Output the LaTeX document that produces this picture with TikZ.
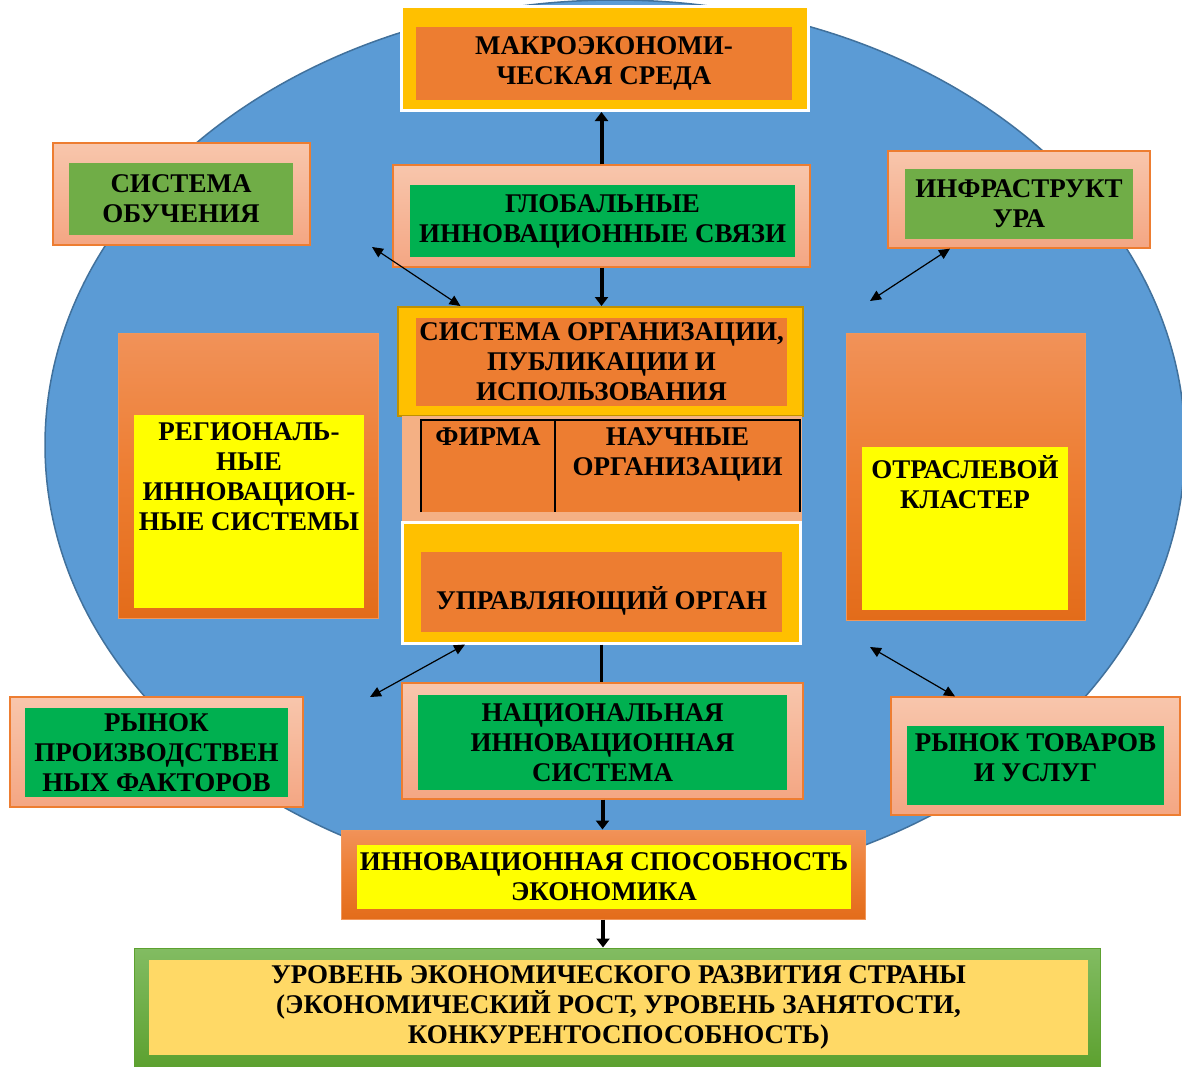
\documentclass[tikz,border=0pt]{standalone}
\usepackage{fontspec}
\setmainfont{Liberation Serif}
\usetikzlibrary{arrows.meta,positioning}
\definecolor{EllBlue}{HTML}{5B9BD5}
\definecolor{EllLine}{HTML}{41719C}
\definecolor{Gold}{HTML}{FFC000}
\definecolor{GoldLine}{HTML}{BF9000}
\definecolor{Orng}{HTML}{ED7D31}
\definecolor{SalTop}{HTML}{F8C6AC}
\definecolor{SalBot}{HTML}{F4A683}
\definecolor{Salmon}{HTML}{F4B084}
\definecolor{OrTop}{HTML}{F19259}
\definecolor{OrBot}{HTML}{E36C1A}
\definecolor{DGreen}{HTML}{00B050}
\definecolor{OGreen}{HTML}{70AD47}
\definecolor{Yel}{HTML}{FFFF00}
\definecolor{LGTop}{HTML}{82BC62}
\definecolor{LGBot}{HTML}{5DA130}
\definecolor{Sand}{HTML}{FFD966}

\begin{document}
\begin{tikzpicture}[x=1pt, y=-1pt, every node/.style={font=\fontsize{27}{30}\selectfont\bfseries, align=center, inner sep=0pt},
  salbox/.style={draw=Orng, line width=1.2pt, top color=SalTop, bottom color=SalBot},
  orbox/.style={draw=Orng!80, line width=1pt, top color=OrTop, bottom color=OrBot, middle color=Orng},
  goldbox/.style={draw=white, line width=3pt, fill=Gold},
  fat/.style={-{Triangle[length=9pt,width=13pt]}, line width=4pt},
  dbl/.style={{Triangle[length=11pt,width=10pt]}-{Triangle[length=11pt,width=10pt]}, line width=1.2pt}]
\useasboundingbox (0,0) rectangle (1182,1068);
\fill[EllBlue, draw=EllLine, line width=1.5pt] (615,445) ellipse [x radius=570pt, y radius=445pt];

% top row
\node[goldbox, minimum width=407pt, minimum height=104pt] (makroO) at (605,58.5) {};
\node[fill=Orng, minimum width=376pt, minimum height=73pt] (makro) at (604,63.5) {МАКРОЭКОНОМИ-\\ЧЕСКАЯ СРЕДА};
\node[salbox, minimum width=257pt, minimum height=102pt] (obuchO) at (181.5,194) {};
\node[fill=OGreen, minimum width=224pt, minimum height=72pt] (obuch) at (181,199) {СИСТЕМА\\ОБУЧЕНИЯ};
\node[salbox, minimum width=417pt, minimum height=102pt] (globO) at (601.5,216) {};
\node[fill=DGreen, minimum width=385pt, minimum height=72pt] (glob) at (602.5,221) {ГЛОБАЛЬНЫЕ\\ИННОВАЦИОННЫЕ СВЯЗИ};
\node[salbox, minimum width=262pt, minimum height=97pt] (infraO) at (1019,199.5) {};
\node[fill=OGreen, minimum width=228pt, minimum height=70pt] (infra) at (1019,204) {ИНФРАСТРУКТ\\УРА};

% centre column
\node[fill=Gold, draw=GoldLine, line width=2pt, minimum width=405pt, minimum height=109pt] (orgO) at (600.5,361.5) {};
\node[fill=Orng, minimum width=371pt, minimum height=88pt] (org) at (601.5,362) {СИСТЕМА ОРГАНИЗАЦИИ,\\ПУБЛИКАЦИИ И\\ИСПОЛЬЗОВАНИЯ};
\node[fill=Salmon, minimum width=400pt, minimum height=106pt] (tab) at (602,469) {};
\node[fill=Orng, minimum width=134pt, minimum height=92pt] (firm) at (488,466) {};
\node[fill=Orng, minimum width=245pt, minimum height=92pt] (sci) at (677.5,466) {};
\draw[line width=1.5pt] (firm.south west) |- (sci.north east) -- (sci.south east) (firm.north east) -- (firm.south east);
\node[below=8pt of firm.north] (firmT) {ФИРМА};
\node[below=8pt of sci.north] (sciT) {НАУЧНЫЕ\\ОРГАНИЗАЦИИ};
\node[goldbox, minimum width=398pt, minimum height=121pt] (uprO) at (601,582.5) {};
\node[fill=Orng, minimum width=361pt, minimum height=80pt] (upr) at (601.5,592) {};
\node (uprT) at ([yshift=-9pt]upr.center) {УПРАВЛЯЮЩИЙ ОРГАН};

% side blocks
\node[orbox, minimum width=260pt, minimum height=285pt] (regO) at (248,475.5) {};
\node[fill=Yel, minimum width=230pt, minimum height=193pt] (reg) at (249,511.5) {};
\node[below=8pt of reg.north] (regT) {РЕГИОНАЛЬ-\\НЫЕ\\ИННОВАЦИОН-\\НЫЕ СИСТЕМЫ};
\node[orbox, minimum width=239pt, minimum height=287pt] (otrO) at (965.5,476.5) {};
\node[fill=Yel, minimum width=206pt, minimum height=163pt] (otr) at (965,528.5) {};
\node[below=8pt of otr.north] (otrT) {ОТРАСЛЕВОЙ\\КЛАСТЕР};

% bottom row
\node[salbox, minimum width=401pt, minimum height=116pt] (natO) at (602.5,741) {};
\node[fill=DGreen, minimum width=369pt, minimum height=95pt] (nat) at (602.5,742.5) {НАЦИОНАЛЬНАЯ\\ИННОВАЦИОННАЯ\\СИСТЕМА};
\node[salbox, minimum width=293pt, minimum height=110pt] (rpfO) at (156.5,752) {};
\node[fill=DGreen, minimum width=263pt, minimum height=89pt] (rpf) at (156.5,752.5) {РЫНОК\\ПРОИЗВОДСТВЕН\\НЫХ ФАКТОРОВ};
\node[salbox, minimum width=289pt, minimum height=118pt] (rtuO) at (1035.5,756) {};
\node[fill=DGreen, minimum width=257pt, minimum height=79pt] (rtu) at (1035.5,765.5) {};
\node (rtuT) at ([yshift=8pt]rtu.center) {РЫНОК ТОВАРОВ\\И УСЛУГ};
\node[orbox, minimum width=524pt, minimum height=89pt] (capO) at (603,874.5) {};
\node[fill=Yel, minimum width=494pt, minimum height=64pt] (cap) at (604,877) {ИННОВАЦИОННАЯ СПОСОБНОСТЬ\\ЭКОНОМИКА};
\node[draw=LGBot, line width=1pt, top color=LGTop, bottom color=LGBot, minimum width=966pt, minimum height=118pt] (levO) at (617,1007) {};
\node[fill=Sand, minimum width=939pt, minimum height=95pt] (lev) at (618.5,1007.5) {УРОВЕНЬ ЭКОНОМИЧЕСКОГО РАЗВИТИЯ СТРАНЫ\\(ЭКОНОМИЧЕСКИЙ РОСТ, УРОВЕНЬ ЗАНЯТОСТИ,\\КОНКУРЕНТОСПОСОБНОСТЬ)};

% arrows
\draw[fat] (globO.north) -- (globO.north |- makroO.south);
\draw[fat] (globO.south) -- (globO.south |- orgO.north);
\draw[line width=3pt] (uprO.south) -- (uprO.south |- natO.north);
\draw[fat] (natO.south) -- (natO.south |- capO.north);
\draw[fat] (capO.south) -- (capO.south |- levO.north);
\coordinate (obuchEnd) at (372,247);
\coordinate (infraEnd) at (870,301);
\coordinate (rpfEnd) at (370,697);
\coordinate (rtuEnd) at (870,647);
\draw[dbl] (obuchEnd) -- ([xshift=-140pt]orgO.north);
\draw[dbl] ([xshift=-69pt]infraO.south) -- (infraEnd);
\draw[dbl] ([xshift=-136pt]uprO.south) -- (rpfEnd);
\draw[dbl] (rtuEnd) -- ([xshift=-80.5pt]rtuO.north);
\end{tikzpicture}
\end{document}
